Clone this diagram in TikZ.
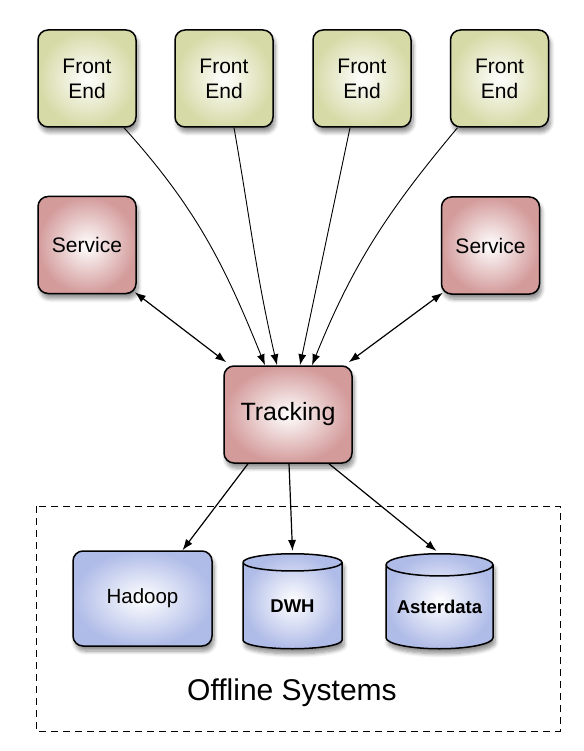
\documentclass[tikz,border=0pt]{standalone}
\usepackage{fontspec}
\setmainfont{Liberation Sans}
\usetikzlibrary{shapes.geometric,shadows.blur,arrows.meta}

\definecolor{feedge}{RGB}{214,218,166}
\definecolor{svedge}{RGB}{212,155,155}
\definecolor{dbedge}{RGB}{176,188,232}

\begin{document}
\begin{tikzpicture}[x=1pt,y=1pt,
  >={Latex[length=11pt,width=8pt]},
  boxshadow/.style={blur shadow={shadow xshift=2pt,shadow yshift=-5pt,shadow blur radius=4pt,shadow blur steps=8,shadow opacity=45}},
  box/.style={rectangle,rounded corners=10pt,draw=black,line width=1.5pt,inner sep=0pt,align=center,boxshadow,shading=radial,inner color=white},
  febox/.style={box,outer color=feedge,minimum width=98,minimum height=97,font=\fontsize{21}{25}\selectfont},
  svbox/.style={box,outer color=svedge,minimum width=98,minimum height=97,font=\fontsize{21}{25}\selectfont},
  dbbox/.style={cylinder,shape border rotate=90,draw=black,line width=1.5pt,inner sep=0pt,boxshadow,shading=radial,inner color=white,outer color=dbedge,minimum height=95,anchor=north,font=\bfseries\fontsize{18.5}{22}\selectfont}]

\useasboundingbox (0,0) rectangle (583,-751);

\node[febox] (fe1) at (87,-78.5) {Front\\End};
\node[febox] (fe2) at (224,-78.5) {Front\\End};
\node[febox] (fe3) at (362,-78.5) {Front\\End};
\node[febox] (fe4) at (499.5,-78.5) {Front\\End};

\node[svbox] (svl) at (87,-245) {Service};
\node[svbox] (svr) at (490.5,-245.5) {Service};

\node[svbox,minimum width=128,font=\fontsize{25}{30}\selectfont] (trk) at (288,-414.5) {Tracking};

\draw[dashed,line width=1pt,dash pattern=on 7pt off 5pt] (36,-506) rectangle (560,-731);
\node[font=\fontsize{30}{36}\selectfont] (offline) at (292,-693) {Offline Systems};

\node[box,outer color=dbedge,minimum width=139,minimum height=95,font=\fontsize{20.5}{24}\selectfont] (hadoop) at (142.5,-598.5) {Hadoop};
\node[dbbox,aspect=0.39,minimum width=99] (dwh) at (292.5,-553) {DWH};
\node[dbbox,aspect=0.26,minimum width=107] (aster) at (439.5,-553) {Asterdata};

\draw [->,line width=0.9pt] ([xshift=37]fe1.south) to[out=-48,in=112] ([xshift=-23]trk.north);
\draw [->,line width=0.9pt] ([xshift=10]fe2.south) to[out=-80,in=103] ([xshift=-11]trk.north);
\draw [->,line width=0.9pt] ([xshift=-12]fe3.south) -- ([xshift=12]trk.north);
\draw [->,line width=0.9pt] ([xshift=-42]fe4.south) to[out=-130,in=68] ([xshift=24]trk.north);

\draw [<->,line width=1.2pt] ([shift={(-2,2)}]svl.south east) -- ([shift={(3,3)}]trk.north west);
\draw [<->,line width=1.2pt] ([shift={(2,2)}]svr.south west) -- ([shift={(-4,3)}]trk.north east);

\draw [->,line width=1.2pt] ([xshift=-40]trk.south) -- ([xshift=40]hadoop.north);
\draw [->,line width=1.2pt] ([xshift=1]trk.south) -- ([yshift=2]dwh.north);
\draw [->,line width=1.2pt] ([xshift=41]trk.south) -- ([shift={(-3,2)}]aster.north);

\end{tikzpicture}
\end{document}
